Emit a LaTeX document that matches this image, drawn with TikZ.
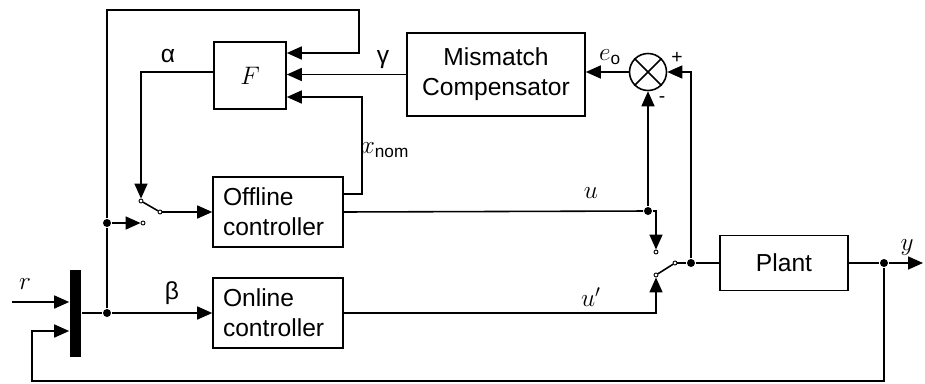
\documentclass[tikz,border=0pt]{standalone}
\usepackage{fontspec}
\setmainfont{Liberation Sans}
\usetikzlibrary{arrows.meta}
\begin{document}
\begin{tikzpicture}[
    x=0.2mm, y=-0.2mm,
    line width=0.9pt,
    every node/.style={font=\fontsize{14}{17}\selectfont},
    box/.style={rectangle, draw, inner sep=0pt, align=center},
    ctrl/.style={box, text width=22mm, inner xsep=2mm, minimum height=14mm, align=left},
    dot/.style={circle, fill, inner sep=0pt, minimum size=1.6mm},
    term/.style={circle, draw, fill=white, inner sep=0pt, minimum size=0.8mm, line width=0.5pt},
    sign/.style={font=\fontsize{11}{13}\selectfont},
    arrow/.style={-{Triangle[length=3mm, width=2.6mm]}}
]
    \useasboundingbox (0,0) rectangle (925,383);

    \node [box, minimum width=14.4mm, minimum height=13.4mm] (F) at (250,75.5) {$F$};
    \node [box, minimum width=35.6mm, minimum height=16.6mm] (mc) at (496,74.5) {Mismatch\\Compensator};
    \node [circle, draw, minimum size=7.4mm, inner sep=0pt] (sum) at (648,72) {};
    \draw (sum.north west) -- (sum.south east) (sum.north east) -- (sum.south west);
    \node [ctrl] (off) at (278,212) {Offline\\controller};
    \node [ctrl] (on) at (278,313) {Online\\controller};
    \node [box, minimum width=25.6mm, minimum height=11mm] (plant) at (784,263) {Plant};
    \node [rectangle, fill, minimum width=2.2mm, minimum height=17.4mm, inner sep=0pt] (bar) at (75.5,313) {};

    % Switch contacts
    \node [term] (s1a) at (141,201) {};
    \node [term] (s1b) at (143,223) {};
    \node [term] (s1c) at (160,212) {};
    \node [term] (s2a) at (656,252) {};
    \node [term] (s2b) at (656,275) {};
    \node [term] (s2c) at (675,263) {};

    % Junctions
    \node [dot] (j1) at (107,223) {};
    \node [dot] (j2) at (107,313) {};
    \node [dot] (j3) at (648,211) {};
    \node [dot] (j4) at (691,263) {};
    \node [dot] (j5) at (884,263) {};

    \coordinate (rin) at (12,302);
    \coordinate (loop) at (359,53);
    \coordinate (xn) at (362,97);
    \coordinate (yout) at (923,263);
    \coordinate (fb) at (32,331);

    \draw [arrow] (rin) -- (bar.west |- rin);
    \draw (bar.east |- j2) -- (j2);
    \draw [arrow] (j2) -- (on.west);
    \draw (j2) -- (j1);
    \draw [arrow] (j1) -- (s1b);
    \draw [arrow] (j1) -- ++(0,-213) -| (loop) -- (F.east |- loop);
    \draw [arrow] (mc.west) -- (F.east |- mc.west);
    \draw [arrow] ([yshift=3.6mm]off.east) -| (xn) -- (F.east |- xn);
    \draw [arrow] ([yshift=0.7mm]F.west) -| (s1a);
    \draw (s1a) -- (s1c);
    \draw [arrow] (s1c) -- (off.west);
    \draw (off.east) -- (j3);
    \draw [arrow] (j3) -| (s2a);
    \draw [arrow] (j3) -- (sum.south);
    \draw [arrow] (on.east) -| (s2b);
    \draw (s2b) -- (s2c);
    \draw (s2c) -- (j4) -- (plant.west);
    \draw [arrow] (j4) |- (sum.east);
    \draw [arrow] (sum.west) -- (mc.east |- sum.west);
    \draw (plant.east) -- (j5);
    \draw [arrow] (j5) -- (yout);
    \draw [arrow] (j5) -- ++(0,118) -| (fb) -- (bar.west |- fb);

    % Signal labels
    \node (lalpha) at (168,56) {α};
    \node (lgamma) at (383,60) {γ};
    \node (lbeta) at (172,293) {β};
    \node (lxnom) at (385,150) {$x_{\mathrm{nom}}$};
    \node (leo) at (610,57) {$e_{\mathrm{o}}$};
    \node [sign] (lplus) at (677,58) {+};
    \node [sign] (lminus) at (662,100) {-};
    \node (lu) at (591,193) {$u$};
    \node (lup) at (591,297) {$u'$};
    \node (lr) at (25,284) {$r$};
    \node (ly) at (907,248) {$y$};
\end{tikzpicture}
\end{document}
